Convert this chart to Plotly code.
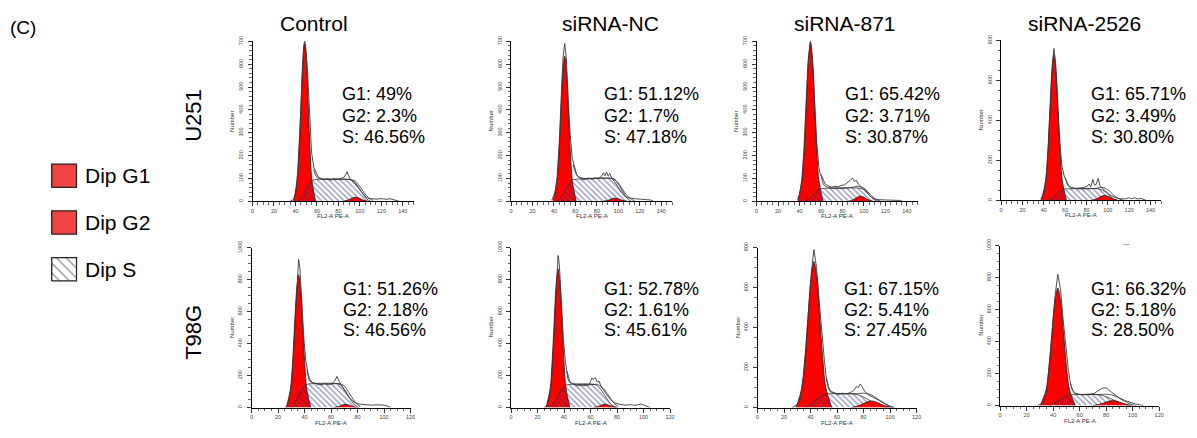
import plotly.graph_objects as go

W, H = 1197, 438

# ---------------- text content ----------------
COL_TITLES = ["Control", "siRNA-NC", "siRNA-871", "siRNA-2526"]
ROW_LABELS = ["U251", "T98G"]
LEGEND_LABELS = ["Dip G1", "Dip G2", "Dip S"]
PANEL_TAG = "(C)"

# percentages, panel order: U251 (Control, NC, 871, 2526), T98G (Control, NC, 871, 2526)
G1_PCT = ["49%", "51.12%", "65.42%", "65.71%", "51.26%", "52.78%", "67.15%", "66.32%"]
G2_PCT = ["2.3%", "1.7%", "3.71%", "3.49%", "2.18%", "1.61%", "5.41%", "5.18%"]
S_PCT = ["46.56%", "47.18%", "30.87%", "30.80%", "46.56%", "45.61%", "27.45%", "28.50%"]

X_MAX = [150, 150, 150, 150, 120, 120, 120, 120]
Y_MAX = [700, 700, 700, 800, 1000, 1000, 800, 1000]

# ---------------- curves ----------------
G1_X = [
    [38.3, 41.7, 43.4, 45.1, 46.8, 48.5, 50.2, 51.9, 53.6, 55.3, 58.7],
    [39.2, 42.8, 44.6, 46.4, 48.2, 50.0, 51.8, 53.6, 55.4, 57.2, 60.8],
    [38.5, 42.4, 44.4, 46.3, 48.3, 50.2, 52.2, 54.1, 56.1, 58.0, 61.9],
    [37.8, 41.7, 43.7, 45.6, 47.6, 49.5, 51.5, 53.4, 55.4, 57.3, 61.2],
    [26.2, 29.3, 30.9, 32.4, 34.0, 35.5, 37.1, 38.6, 40.2, 41.7, 44.8],
    [26.5, 29.5, 31.0, 32.5, 34.0, 35.5, 37.0, 38.5, 40.0, 41.5, 44.5],
    [29.0, 33.5, 35.8, 38.0, 40.3, 42.5, 44.8, 47.0, 49.3, 51.5, 56.0],
    [30.3, 34.7, 36.9, 39.1, 41.3, 43.5, 45.7, 47.9, 50.1, 52.3, 56.7],
]
G1_Y = [
    [0, 93, 224, 419, 609, 690, 609, 419, 224, 93, 0],
    [0, 86, 206, 385, 560, 635, 560, 385, 206, 86, 0],
    [0, 94, 226, 422, 613, 695, 613, 422, 226, 94, 0],
    [0, 99, 237, 443, 644, 730, 644, 443, 237, 99, 0],
    [0, 112, 270, 504, 732, 830, 732, 504, 270, 112, 0],
    [0, 117, 282, 526, 765, 867, 765, 526, 282, 117, 0],
    [0, 99, 237, 443, 644, 730, 644, 443, 237, 99, 0],
    [0, 99, 239, 446, 648, 735, 648, 446, 239, 99, 0],
]
S_X = [
    [42, 47, 52, 56, 60, 92, 96, 101, 106, 110],
    [43, 48, 53, 57, 61, 95, 99, 104, 108, 112],
    [45, 50, 55, 59, 63, 98, 102, 106, 110, 113],
    [44, 49, 54, 58, 62, 92, 97, 102, 106, 109],
    [29, 33, 37, 41, 44, 66, 70, 74, 78, 81],
    [29, 33, 37, 41, 44, 64, 68, 72, 76, 80],
    [36, 41, 46, 50, 54, 74, 80, 86, 92, 98],
    [37, 42, 47, 51, 55, 75, 81, 87, 93, 98],
]
S_Y = [
    [0, 25, 70, 92, 96, 94, 80, 45, 12, 0],
    [0, 25, 70, 93, 97, 99, 82, 45, 14, 0],
    [0, 15, 40, 54, 57, 56, 45, 22, 6, 0],
    [0, 15, 42, 56, 58, 57, 45, 22, 6, 0],
    [0, 35, 100, 142, 148, 146, 115, 60, 15, 0],
    [0, 35, 95, 138, 144, 142, 110, 60, 15, 0],
    [0, 20, 48, 65, 69, 67, 52, 30, 10, 0],
    [0, 20, 47, 64, 68, 67, 52, 30, 10, 0],
]
G2_X = [
    [84.5, 89.1, 92.5, 96.0, 99.5, 102.9, 107.5],
    [85.5, 90.1, 93.5, 97.0, 100.5, 103.9, 108.5],
    [85.5, 90.1, 93.5, 97.0, 100.5, 103.9, 108.5],
    [84.5, 89.5, 93.3, 97.0, 100.8, 104.5, 109.5],
    [62.0, 65.6, 68.3, 71.0, 73.7, 76.4, 80.0],
    [62.0, 65.6, 68.3, 71.0, 73.7, 76.4, 80.0],
    [71.0, 77.0, 81.5, 86.0, 90.5, 95.0, 101.0],
    [70.0, 76.0, 80.5, 85.0, 89.5, 94.0, 100.0],
]
G2_Y = [
    [0, 6, 13.5, 18, 13.5, 6, 0],
    [0, 4.5, 10.5, 14, 10.5, 4.5, 0],
    [0, 7.5, 17, 23, 17, 7.5, 0],
    [0, 8, 19, 25, 19, 8, 0],
    [0, 6.5, 15, 20, 15, 6.5, 0],
    [0, 6.5, 15, 20, 15, 6.5, 0],
    [0, 11, 25, 33, 25, 11, 0],
    [0, 10, 23, 31, 23, 10, 0],
]
FIT_X = [
    [57, 60, 65, 75, 85, 92, 96, 100, 104, 108, 112],
    [58, 62, 70, 80, 90, 96, 100, 104, 108, 112, 115],
    [60, 63, 70, 80, 90, 95, 100, 104, 108, 112, 115],
    [60, 63, 70, 80, 88, 94, 98, 102, 106, 110, 114],
    [42, 44, 50, 60, 66, 70, 73, 76, 79, 82],
    [42, 44, 50, 60, 65, 69, 72, 75, 78, 81],
    [52, 55, 60, 70, 76, 80, 86, 90, 95, 100, 103],
    [53, 56, 61, 70, 77, 81, 86, 90, 95, 100, 103],
]
FIT_Y = [
    [140, 105, 97, 96, 96, 95, 88, 64, 38, 16, 4],
    [160, 110, 99, 100, 101, 98, 80, 52, 26, 10, 3],
    [120, 70, 58, 57, 62, 66, 58, 40, 20, 7, 2],
    [115, 72, 59, 58, 60, 65, 60, 44, 24, 9, 2],
    [240, 165, 149, 147, 150, 135, 100, 60, 25, 6],
    [230, 160, 145, 143, 145, 125, 95, 58, 25, 6],
    [150, 85, 70, 69, 70, 72, 63, 46, 22, 5, 0],
    [140, 82, 69, 69, 70, 71, 62, 46, 22, 5, 0],
]
HIST_X = [
    [35, 38, 40, 42, 44, 46, 47.5, 48.5, 49.5, 51, 53, 55, 57, 59, 61, 64, 67, 70, 73, 76,
     79, 82, 85, 87, 88, 89.5, 91, 94, 97, 100, 103, 106, 110, 115, 120, 125, 128, 131, 134, 137],
    [38, 41, 43, 45, 47, 48.5, 50, 51.5, 53, 55, 57, 59, 61, 63, 66, 69, 72, 75, 78, 81,
     84, 86, 87.5, 89, 90.5, 92, 94, 97, 100, 103, 106, 110, 115, 120, 125, 130, 133],
    [38, 40, 42, 44, 46, 48, 50.2, 52, 54, 56, 58, 59.5, 61, 62.5, 64, 67, 70, 73, 76, 79,
     82, 84, 86, 88, 89.5, 91, 93, 95, 98, 101, 104, 107, 110, 115, 120, 125, 130, 134, 136],
    [37, 40, 42, 44, 46, 48, 49.5, 51, 53, 55, 57, 59, 61, 63, 66, 70, 74, 78, 81, 82.5,
     84, 86, 87.5, 89, 91, 92.5, 95, 98, 101, 104, 108, 112, 117, 120, 122, 125, 128, 131, 134, 136],
    [25, 27, 28.5, 30, 31.5, 33, 34.5, 35.5, 36.5, 38, 39.5, 41, 42.5, 44, 46, 49, 52, 55, 58, 61,
     63, 64.5, 66, 68, 70, 72, 75, 78, 81, 85, 90, 95, 100, 103, 105],
    [25, 27, 29, 30.5, 32, 33.5, 34.5, 35.5, 36.5, 38, 39.5, 41, 42, 43, 44.5, 47, 50, 53, 56, 59,
     61, 62, 63.5, 65, 66.5, 68, 70, 72, 75, 78, 82, 86, 90, 94, 98, 100, 103, 105],
    [26, 28, 30, 32, 34.5, 36.5, 38.5, 40.5, 42.5, 44.5, 46.5, 48.5, 50.5, 52, 53.5, 55, 58, 61, 64, 67,
     70, 72.5, 74.5, 76, 77.5, 79, 81, 84, 88, 92, 96, 100, 103],
    [28, 30, 32, 34, 35.5, 37.5, 39.5, 41.5, 43.5, 45.5, 47.5, 49.5, 51.5, 53, 54.5, 56, 59, 62, 65, 68,
     71, 73, 75, 77, 79, 81, 83, 86, 90, 94, 98, 102, 106, 108],
]
HIST_Y = [
    [0, 8, 35, 125, 300, 560, 670, 705, 680, 590, 380, 215, 150, 125, 108, 100, 96, 100, 93, 99,
     96, 100, 105, 118, 130, 112, 98, 85, 68, 50, 30, 17, 12, 10, 12, 9, 12, 8, 3, 0],
    [5, 40, 110, 260, 480, 630, 690, 630, 470, 300, 190, 150, 120, 105, 98, 95, 103, 96, 102, 100,
     108, 125, 112, 128, 110, 122, 100, 83, 58, 36, 22, 15, 12, 10, 11, 6, 0],
    [8, 30, 90, 215, 415, 615, 705, 625, 440, 260, 150, 115, 108, 90, 75, 68, 62, 66, 64, 70,
     72, 80, 88, 95, 102, 88, 92, 75, 62, 48, 32, 18, 10, 7, 6, 7, 5, 4, 0],
    [5, 35, 100, 240, 460, 680, 760, 690, 480, 290, 170, 125, 100, 75, 62, 60, 62, 65, 72, 82,
     68, 105, 75, 80, 110, 75, 60, 45, 32, 22, 12, 8, 8, 14, 8, 13, 7, 10, 3, 0],
    [0, 10, 50, 135, 310, 560, 830, 925, 870, 640, 430, 290, 215, 175, 155, 148, 140, 150, 145, 150,
     170, 195, 165, 140, 110, 80, 50, 30, 22, 18, 15, 17, 15, 8, 0],
    [0, 10, 60, 150, 370, 640, 850, 950, 890, 650, 430, 290, 230, 205, 160, 145, 135, 140, 138, 142,
     185, 175, 188, 160, 165, 130, 105, 80, 50, 30, 20, 15, 18, 14, 22, 16, 8, 0],
    [0, 8, 15, 35, 160, 310, 500, 670, 790, 700, 530, 360, 230, 140, 95, 78, 70, 65, 72, 68,
     75, 85, 105, 100, 118, 100, 80, 62, 48, 32, 18, 7, 0],
    [0, 8, 14, 40, 120, 300, 510, 690, 820, 730, 540, 360, 220, 140, 95, 78, 70, 68, 70, 72,
     75, 88, 100, 108, 112, 105, 90, 70, 48, 32, 20, 10, 4, 0],
]
MARK_X = [[48], [50], [50, 90], [49, 95], [35], [35], [43, 78], [43, 80]]

# ---------------- layout positions (px) ----------------
PANEL_X_PX = [(252, 414), (512, 674), (759, 921), (1005, 1166),
              (251, 411), (512, 672), (760, 920), (1004, 1164)]
PANEL_Y_PX = [(35, 198), (35, 198), (35, 198), (34, 197),
              (245, 408), (245, 408), (245, 408), (243, 406)]
LABEL_X_PX = [340, 604, 846, 1093, 341, 604, 845, 1093]
LABEL_Y_PX = [(89, 111, 132), (287, 308.5, 329)]
TITLE_X_PX = [314, 612, 848, 1089]

FONT = "Liberation Sans, Arial, Helvetica, sans-serif"
RED = "#ff0000"
HATCH = "#27337a"


def px(x):
    return x / W


def py(y):
    return 1 - y / H


fig = go.Figure()
layout = dict(
    width=W, height=H, margin=dict(l=0, r=0, t=0, b=0),
    paper_bgcolor="white", plot_bgcolor="white", showlegend=False,
    font=dict(family=FONT, color="black"),
)
annotations = []

for i in range(8):
    k = i + 1
    xa = "x" if k == 1 else f"x{k}"
    ya = "y" if k == 1 else f"y{k}"
    ymax = Y_MAX[i]
    common = dict(xaxis=xa, yaxis=ya, hoverinfo="skip")

    # G1 peak
    fig.add_trace(go.Scatter(x=G1_X[i], y=G1_Y[i], mode="lines", fill="tozeroy",
                             fillcolor=RED, line=dict(color="#1a1a1a", width=0.8,
                                                      shape="spline", smoothing=0.9),
                             **common))
    # S phase (hatched)
    fig.add_trace(go.Scatter(x=S_X[i], y=S_Y[i], mode="lines", fill="tozeroy",
                             fillcolor="rgba(0,0,0,0)",
                             fillpattern=dict(shape="\\", fgcolor=HATCH, bgcolor="rgba(0,0,0,0)",
                                              size=4, solidity=0.35, fillmode="overlay"),
                             line=dict(color="#333333", width=0.8, shape="spline", smoothing=0.8),
                             **common))
    # G2 peak
    fig.add_trace(go.Scatter(x=G2_X[i], y=G2_Y[i], mode="lines", fill="tozeroy",
                             fillcolor=RED, line=dict(color="#1a1a1a", width=0.8,
                                                      shape="spline", smoothing=0.9),
                             **common))
    # model sum line
    fig.add_trace(go.Scatter(x=FIT_X[i], y=FIT_Y[i], mode="lines",
                             line=dict(color="#2a2a2a", width=0.8, shape="spline", smoothing=0.8),
                             **common))
    # histogram outline
    fig.add_trace(go.Scatter(x=HIST_X[i], y=HIST_Y[i], mode="lines",
                             line=dict(color="#3a3a3a", width=0.9), **common))
    # peak markers below the axis
    tri_y = -ymax * 2.6 / 163.0
    fig.add_trace(go.Scatter(x=MARK_X[i], y=[tri_y] * len(MARK_X[i]), mode="markers",
                             marker=dict(symbol="triangle-up", size=6, color="black"),
                             cliponaxis=False, **common))

    x0, x1 = PANEL_X_PX[i]
    y0, y1 = PANEL_Y_PX[i]
    big = ymax >= 800
    layout["xaxis" if k == 1 else f"xaxis{k}"] = dict(
        domain=[px(x0), px(x1)], range=[0, X_MAX[i]], anchor=ya,
        showline=True, linecolor="black", linewidth=1, showgrid=False, zeroline=False,
        ticks="outside", ticklen=4, tickwidth=0.8, tickcolor="black",
        tick0=0, dtick=20, tickfont=dict(size=5.5, color="#444"),
        minor=dict(dtick=5, ticks="outside", ticklen=2.5, tickwidth=0.6, tickcolor="black"),
        fixedrange=True,
    )
    layout["yaxis" if k == 1 else f"yaxis{k}"] = dict(
        domain=[py(y1), py(y0)], range=[0, ymax], anchor=xa,
        showline=True, linecolor="black", linewidth=1, showgrid=False, zeroline=False,
        ticks="outside", ticklen=4, tickwidth=0.8, tickcolor="black",
        tick0=0, dtick=200 if big else 100, tickangle=-90,
        tickfont=dict(size=5.5, color="#444"), ticklabelstandoff=2,
        minor=dict(dtick=50 if big else 20, ticks="outside", ticklen=2.5, tickwidth=0.6,
                   tickcolor="black"),
        fixedrange=True,
    )
    # axis titles
    annotations.append(dict(text="FL2-A PE-A", xref=f"{xa} domain", yref=f"{ya} domain",
                            x=0.5, y=0, yshift=-20, showarrow=False,
                            font=dict(size=6, color="#333")))
    annotations.append(dict(text="Number", xref=f"{xa} domain", yref=f"{ya} domain",
                            x=0, y=0.5, xshift=-25, textangle=-90, showarrow=False,
                            font=dict(size=6, color="#333")))
    # percentages
    row = i // 4
    for txt, yy in zip([f"G1: {G1_PCT[i]}", f"G2: {G2_PCT[i]}", f"S: {S_PCT[i]}"],
                       LABEL_Y_PX[row]):
        annotations.append(dict(text=txt, xref="paper", yref="paper", x=px(LABEL_X_PX[i]),
                                y=py(yy), xanchor="left", yanchor="middle", showarrow=False,
                                font=dict(size=18, color="black")))

# column titles
for c, t in enumerate(COL_TITLES):
    annotations.append(dict(text=t, xref="paper", yref="paper", x=px(TITLE_X_PX[c]), y=py(17),
                            xanchor="center", yanchor="middle", showarrow=False,
                            font=dict(size=21, color="black")))
# row labels
for r, (t, yy) in enumerate(zip(ROW_LABELS, [110, 331])):
    annotations.append(dict(text=t, xref="paper", yref="paper", x=px(193), y=py(yy),
                            xanchor="center", yanchor="middle", textangle=-90, showarrow=False,
                            font=dict(size=22, color="black")))
# panel tag
annotations.append(dict(text=PANEL_TAG, xref="paper", yref="paper", x=px(6), y=py(21),
                        xanchor="left", yanchor="middle", showarrow=False,
                        font=dict(size=19, color="black")))
# stray mark seen at top of the last panel
annotations.append(dict(text="\u2013", xref="paper", yref="paper", x=px(1131), y=py(240),
                        xanchor="center", yanchor="middle", showarrow=False,
                        font=dict(size=11, color="#999")))

# ---------------- legend drawn in its own small axes ----------------
LEG_TOP_PX, LEG_STEP_PX, LEG_BOX_PX = 160, 47.5, 23.8
layout["xaxis9"] = dict(domain=[px(49), px(76)], range=[-0.04, 1.04], visible=False,
                        fixedrange=True, anchor="y9")
layout["yaxis9"] = dict(domain=[py(280), py(159)], range=[-0.042, 5.042], visible=False,
                        fixedrange=True, anchor="x9")
for j, lab in enumerate(LEGEND_LABELS):
    lo = 4 - 2 * j
    hi = lo + 1
    kw = dict(x=[0, 1, 1, 0, 0], y=[lo, lo, hi, hi, lo], mode="lines", fill="toself",
              line=dict(color="#222", width=1.3), xaxis="x9", yaxis="y9", hoverinfo="skip")
    if j < 2:
        fig.add_trace(go.Scatter(fillcolor="#f04343", **kw))
    else:
        fig.add_trace(go.Scatter(fillcolor="white",
                                 fillpattern=dict(shape="\\", fgcolor="#222", bgcolor="white",
                                                  size=7, solidity=0.18), **kw))
    annotations.append(dict(text=lab, xref="paper", yref="paper", x=px(81),
                            y=py(LEG_TOP_PX + LEG_BOX_PX / 2 + j * LEG_STEP_PX),
                            xanchor="left", yanchor="middle", showarrow=False,
                            font=dict(size=21, color="black")))

layout["annotations"] = annotations
fig.update_layout(**layout)
fig.write_html("out.html", config={"displayModeBar": False, "staticPlot": True},
               post_script="document.body.style.margin='0px';document.body.style.overflow='hidden';")
